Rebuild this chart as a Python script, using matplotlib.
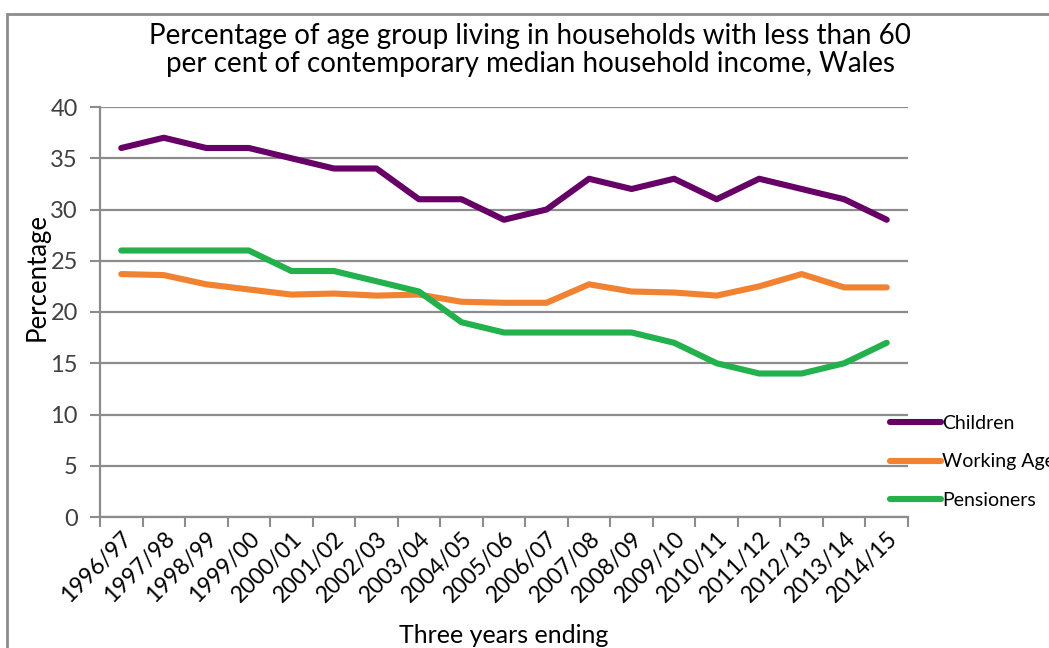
import matplotlib
matplotlib.use("Agg")
import matplotlib.pyplot as plt
from matplotlib.patches import Rectangle

plt.rcParams['font.family'] = ['Lato', 'DejaVu Sans']

years = ["1996/97", "1997/98", "1998/99", "1999/00", "2000/01", "2001/02", "2002/03",
         "2003/04", "2004/05", "2005/06", "2006/07", "2007/08", "2008/09", "2009/10",
         "2010/11", "2011/12", "2012/13", "2013/14", "2014/15"]
children = [36, 37, 36, 36, 35, 34, 34, 31, 31, 29, 30, 33, 32, 33, 31, 33, 32, 31, 29]
working_age = [23.7, 23.6, 22.7, 22.2, 21.7, 21.8, 21.6, 21.7, 21.0, 20.9, 20.9, 22.7,
               22.0, 21.9, 21.6, 22.5, 23.7, 22.4, 22.4]
pensioners = [26, 26, 26, 26, 24, 24, 23, 22, 19, 18, 18, 18, 18, 17, 15, 14, 14, 15, 17]
yticks = [0, 5, 10, 15, 20, 25, 30, 35, 40]

series = [("Children", children, "#660066"),
          ("Working Age", working_age, "#F08232"),
          ("Pensioners", pensioners, "#22B14C")]

W, H = 1049, 648
fig = plt.figure(figsize=(W / 100, H / 100), dpi=100)
ax = fig.add_axes([100 / W, 1 - 517 / H, 808 / W, 410 / H])

grid_c = "#8C8C8C"
x = list(range(len(years)))
for name, vals, col in series:
    ax.plot(x, vals, color=col, lw=4.4, solid_capstyle='round', solid_joinstyle='round',
            label=name, zorder=3)

ax.set_xlim(-0.5, len(years) - 0.5)
ax.set_ylim(0, 40)
ax.set_yticks(yticks)
ax.set_yticklabels([str(v) for v in yticks], fontsize=17, color="#404040")
ax.set_xticks(x)
ax.set_xticklabels(years, rotation=45, ha='right', rotation_mode='anchor', fontsize=16.5)
ax.tick_params(axis='x', length=0, pad=8)
ax.set_xticks([i - 0.5 for i in range(len(years) + 1)], minor=True)
ax.tick_params(axis='x', which='minor', length=7, width=1.5, color=grid_c, direction='out')
ax.tick_params(axis='y', length=7, width=1.5, color=grid_c, direction='out', pad=9)
ax.grid(axis='y', color=grid_c, lw=1.6, zorder=1)
for s in ['top', 'right']:
    ax.spines[s].set_visible(False)
for s in ['left', 'bottom']:
    ax.spines[s].set_color(grid_c)
    ax.spines[s].set_linewidth(1.6)

ax.set_ylabel("Percentage", fontsize=18.5)
ax.set_xlabel("Three years ending", fontsize=18)
ax.yaxis.set_label_coords(-0.062, 0.585)
ax.xaxis.set_label_coords(0.5, -0.26)

fig.text(530 / W, 1 - 50 / H,
         "Percentage of age group living in households with less than 60\nper cent of contemporary median household income, Wales",
         ha='center', va='center', fontsize=20, linespacing=1.1)

leg = ax.legend(loc='center left', bbox_to_anchor=(890 / W, 1 - 462 / H),
                bbox_transform=fig.transFigure, frameon=False, fontsize=14,
                handlelength=2.6, handletextpad=0.08, labelspacing=1.12, borderaxespad=0,
                borderpad=0)

fig.add_artist(Rectangle((7 / W, -0.1), 1.2, 1 - 14 / H + 0.1, transform=fig.transFigure,
                         fill=False, edgecolor="#8C8C8C", lw=2))

fig.savefig("out.png", dpi=100)
